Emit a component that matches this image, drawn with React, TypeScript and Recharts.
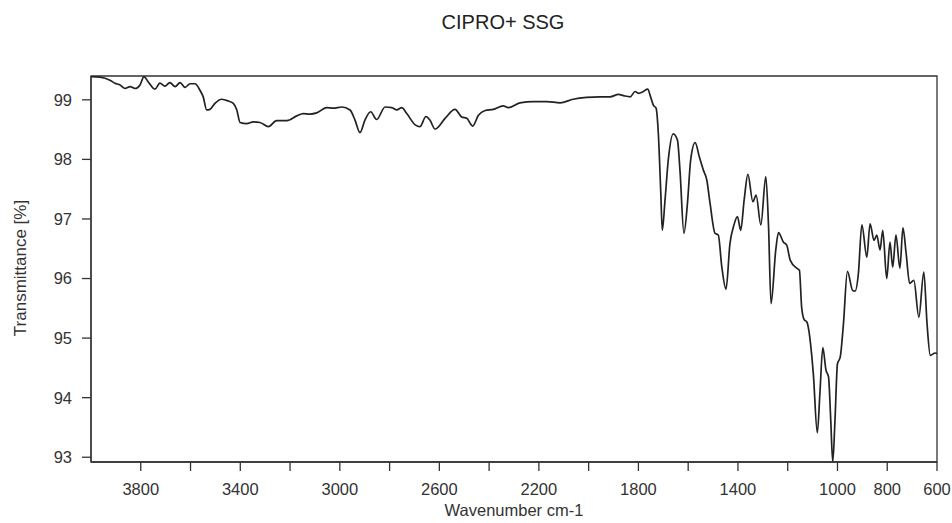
import React from 'react';
import { LineChart, Line, XAxis, YAxis, ReferenceArea } from 'recharts';

const wavenumbers = [
  4000, 3964, 3924, 3904, 3883, 3863, 3843, 3823, 3803, 3787, 3770, 3743, 3723, 3703, 3683, 3662,
  3642, 3622, 3602, 3582, 3562, 3549, 3535, 3522, 3502, 3475, 3448, 3428, 3414, 3401, 3374, 3348,
  3321, 3287, 3254, 3213, 3173, 3147, 3120, 3093, 3053, 3026, 2992, 2959, 2939, 2919, 2899, 2876,
  2852, 2818, 2791, 2771, 2751, 2731, 2697, 2678, 2654, 2638, 2617, 2577, 2537, 2510, 2490, 2466,
  2443, 2416, 2383, 2343, 2323, 2276, 2222, 2168, 2115, 2062, 2008, 1954, 1914, 1880, 1860, 1833,
  1813, 1800, 1780, 1763, 1751, 1740, 1729, 1720, 1710, 1704, 1693, 1680, 1660, 1643, 1633, 1617,
  1603, 1590, 1572, 1555, 1539, 1525, 1512, 1492, 1479, 1465, 1448, 1432, 1418, 1402, 1389, 1375,
  1360, 1340, 1327, 1308, 1288, 1277, 1267, 1248, 1237, 1217, 1204, 1190, 1163, 1153, 1144, 1134,
  1123, 1097, 1081, 1070, 1059, 1046, 1036, 1027, 1019, 1010, 1000, 989, 976, 960, 939, 929,
  916, 902, 882, 869, 853, 842, 829, 818, 802, 789, 778, 765, 749, 737, 724, 710,
  693, 673, 653, 640, 627, 607, 600,
];

// transmittance [%]
const transmittance = [
  99.39, 99.38, 99.33, 99.28, 99.25, 99.19, 99.22, 99.19, 99.25, 99.39, 99.30, 99.18, 99.28, 99.23, 99.29, 99.22,
  99.29, 99.21, 99.27, 99.27, 99.16, 99.05, 98.83, 98.84, 98.94, 99.01, 98.98, 98.94, 98.83, 98.62, 98.60, 98.63,
  98.62, 98.55, 98.65, 98.65, 98.73, 98.77, 98.76, 98.78, 98.87, 98.86, 98.88, 98.83, 98.66, 98.45, 98.66, 98.80,
  98.67, 98.88, 98.87, 98.83, 98.87, 98.77, 98.58, 98.55, 98.72, 98.66, 98.51, 98.69, 98.84, 98.71, 98.69, 98.56,
  98.74, 98.82, 98.84, 98.90, 98.87, 98.95, 98.97, 98.97, 98.95, 99.01, 99.04, 99.05, 99.05, 99.09, 99.07, 99.05,
  99.14, 99.11, 99.14, 99.18, 99.05, 98.91, 98.86, 98.44, 97.43, 96.81, 97.32, 97.99, 98.43, 98.32, 97.82, 96.76,
  97.26, 97.99, 98.28, 98.04, 97.82, 97.65, 97.26, 96.76, 96.73, 96.20, 95.82, 96.59, 96.87, 97.04, 96.81, 97.32,
  97.75, 97.29, 97.40, 96.90, 97.71, 96.87, 95.58, 96.48, 96.77, 96.61, 96.56, 96.31, 96.17, 96.14, 95.52, 95.31,
  95.27, 94.40, 93.41, 94.12, 94.84, 94.46, 94.35, 93.62, 92.92, 93.62, 94.57, 94.68, 95.24, 96.12, 95.80, 95.79,
  96.08, 96.90, 96.36, 96.92, 96.64, 96.73, 96.48, 96.81, 96.00, 96.61, 96.19, 96.73, 96.17, 96.85, 96.42, 95.92,
  95.97, 95.35, 96.11, 95.24, 94.71, 94.75, 94.74,
];

const xTicks = [3800, 3600, 3400, 3200, 3000, 2800, 2600, 2400, 2200, 2000, 1800, 1600, 1400, 1200, 1000, 800, 600];
const xLabelled = [3800, 3400, 3000, 2600, 2200, 1800, 1400, 1000, 800, 600];
const yTicks = [93, 94, 95, 96, 97, 98, 99];

const X_MIN = 600;
const X_MAX = 4000;
const Y_MIN = 92.92;
const Y_MAX = 99.4;

const data = wavenumbers.map((wn, i) => ({ wn, t: transmittance[i] }));

const font = '"Liberation Sans", Arial, sans-serif';
const ink = '#333';

const YLabel = (props: any) => {
  const { viewBox } = props;
  const cx = viewBox.x - 0.5;
  const cy = viewBox.y + viewBox.height / 2 - 1;
  return (
    <text x={cx} y={cy} transform={`rotate(-90 ${cx} ${cy})`} textAnchor="middle" dominantBaseline="central"
      fill={ink} fontSize={17} fontFamily={font}>
      Transmittance [%]
    </text>
  );
};

export default function App() {
  return (
    <div style={{ position: 'absolute', left: 0, top: 0, width: 952, height: 523, background: '#fff', fontFamily: font }}>
      <div style={{ position: 'absolute', left: 0, width: 1006, top: 11, textAlign: 'center', fontSize: 20, color: '#222' }}>
        CIPRO+ SSG
      </div>
      <LineChart width={952} height={523} data={data} margin={{ top: 76, right: 15, bottom: 5, left: 21 }}>
        <XAxis
          dataKey="wn"
          type="number"
          domain={[X_MIN, X_MAX]}
          reversed
          ticks={xTicks}
          interval={0}
          tickFormatter={(v: number) => (xLabelled.includes(v) ? String(v) : '')}
          tick={{ fontSize: 16.5, fill: ink, fontFamily: font }}
          tickSize={9}
          tickMargin={12}
          stroke={ink}
          strokeWidth={1.3}
          height={56}
          label={{ value: 'Wavenumber cm-1', position: 'insideBottom', offset: 2, fontSize: 16.5, fill: ink, fontFamily: font }}
        />
        <YAxis
          type="number"
          domain={[Y_MIN, Y_MAX]}
          allowDataOverflow
          ticks={yTicks}
          interval={0}
          tick={{ fontSize: 16.5, fill: ink, fontFamily: font }}
          tickSize={9}
          tickMargin={10}
          stroke={ink}
          strokeWidth={1.3}
          width={70}
          label={<YLabel />}
        />
        <ReferenceArea x1={X_MAX} x2={X_MIN} y1={Y_MIN} y2={Y_MAX} fill="none" stroke={ink} strokeWidth={1.3} ifOverflow="visible" />
        <Line
          dataKey="t"
          type="monotone"
          stroke="#222"
          strokeWidth={1.7}
          dot={false}
          isAnimationActive={false}
        />
      </LineChart>
    </div>
  );
}
